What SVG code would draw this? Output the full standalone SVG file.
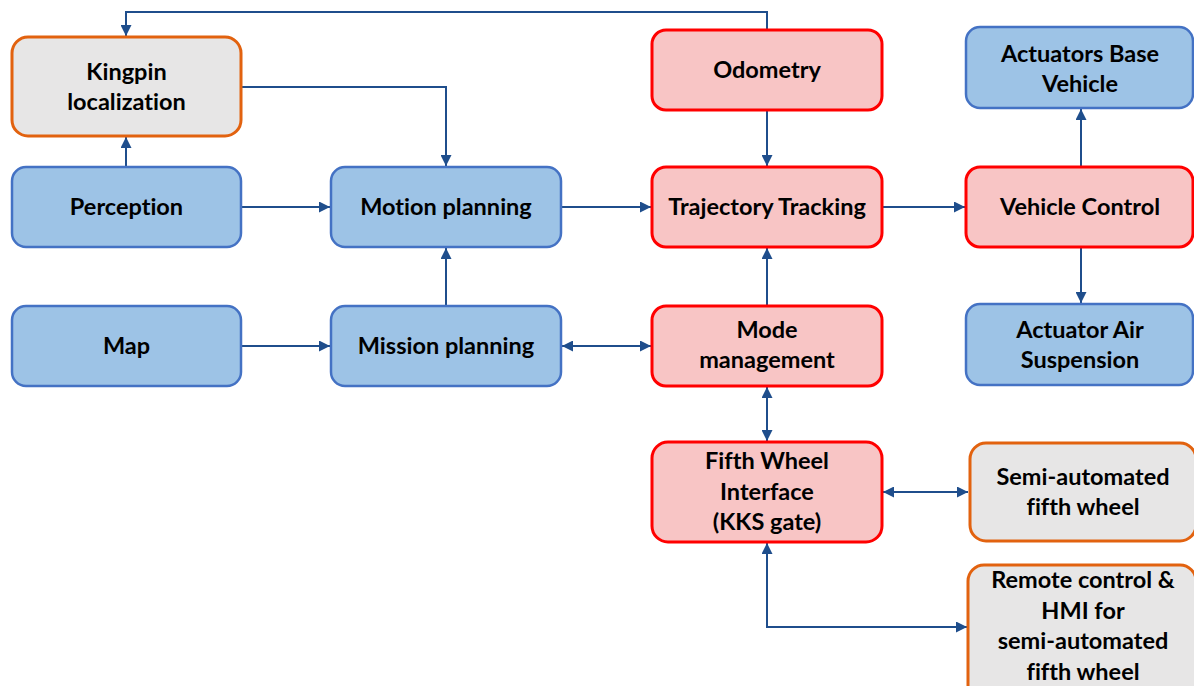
<svg xmlns="http://www.w3.org/2000/svg" width="1194" height="686" viewBox="0 0 1194 686">
  <style>
    .box rect { stroke-width: 2.5; }
    .blue rect { fill: #9DC3E6; stroke: #4472C4; }
    .red rect { fill: #F8C5C5; stroke: #FF0000; stroke-width: 3; }
    .gray rect { fill: #E7E6E6; stroke: #E2620F; stroke-width: 3; }
    .box text { font-family: "Lato", "Liberation Sans", sans-serif; font-weight: bold; font-size: 23.5px; fill: #000; text-anchor: middle; font-variant-ligatures: none; }
    .conn path { fill: none; stroke: #1F4E8C; stroke-width: 2; }
  </style>
  <defs>
    <marker id="arrow" viewBox="0 0 10 10" refX="10" refY="5" markerWidth="5.5" markerHeight="5.5" orient="auto-start-reverse" markerUnits="strokeWidth">
      <path d="M0,0 L10,5 L0,10 z" fill="#1F4E8C"/>
    </marker>
  </defs>
  <rect width="1194" height="686" fill="#FFFFFF"/>

  <!-- connectors -->
  <g id="connectors" class="conn">
    <path d="M767,30 V12 H126 V36" marker-end="url(#arrow)"/>
    <path d="M241,87 H446 V166" marker-end="url(#arrow)"/>
    <path d="M126,167 V137" marker-end="url(#arrow)"/>
    <path d="M241,207 H330" marker-end="url(#arrow)"/>
    <path d="M561,207 H651" marker-end="url(#arrow)"/>
    <path d="M882,207 H965" marker-end="url(#arrow)"/>
    <path d="M767,110 V166" marker-end="url(#arrow)"/>
    <path d="M446,306 V248" marker-end="url(#arrow)"/>
    <path d="M241,346 H330" marker-end="url(#arrow)"/>
    <path d="M562,346 H651" marker-start="url(#arrow)" marker-end="url(#arrow)"/>
    <path d="M767,306 V248" marker-end="url(#arrow)"/>
    <path d="M767,387 V441" marker-start="url(#arrow)" marker-end="url(#arrow)"/>
    <path d="M1081,167 V109" marker-end="url(#arrow)"/>
    <path d="M1081,247 V303" marker-end="url(#arrow)"/>
    <path d="M883,492 H968" marker-start="url(#arrow)" marker-end="url(#arrow)"/>
    <path d="M767,543 V627 H967" marker-start="url(#arrow)" marker-end="url(#arrow)"/>
  </g>

  <!-- nodes -->
  <g id="kingpin" class="box gray">
    <rect x="12" y="37" width="229" height="99" rx="16"/>
    <text x="126.5" y="80">Kingpin</text>
    <text x="126.5" y="110">localization</text>
  </g>
  <g id="perception" class="box blue">
    <rect x="12" y="167" width="229" height="80" rx="14"/>
    <text x="126.5" y="215">Perception</text>
  </g>
  <g id="map" class="box blue">
    <rect x="12" y="306" width="229" height="80" rx="14"/>
    <text x="126.5" y="354">Map</text>
  </g>
  <g id="motion-planning" class="box blue">
    <rect x="331" y="167" width="230" height="80" rx="14"/>
    <text x="446" y="215">Motion planning</text>
  </g>
  <g id="mission-planning" class="box blue">
    <rect x="331" y="306" width="230" height="80" rx="14"/>
    <text x="446" y="354">Mission planning</text>
  </g>
  <g id="odometry" class="box red">
    <rect x="652" y="30" width="230" height="80" rx="14"/>
    <text x="767" y="78">Odometry</text>
  </g>
  <g id="trajectory-tracking" class="box red">
    <rect x="652" y="167" width="230" height="80" rx="14"/>
    <text x="767" y="215">Trajectory Tracking</text>
  </g>
  <g id="mode-management" class="box red">
    <rect x="652" y="306" width="230" height="80" rx="14"/>
    <text x="767" y="338">Mode</text>
    <text x="767" y="368">management</text>
  </g>
  <g id="fifth-wheel-interface" class="box red">
    <rect x="652" y="442" width="230" height="100" rx="16"/>
    <text x="767" y="469">Fifth Wheel</text>
    <text x="767" y="500">Interface</text>
    <text x="767" y="530">(KKS gate)</text>
  </g>
  <g id="actuators-base-vehicle" class="box blue">
    <rect x="966" y="27" width="227" height="81" rx="14"/>
    <text x="1080" y="62">Actuators Base</text>
    <text x="1080" y="92">Vehicle</text>
  </g>
  <g id="vehicle-control" class="box red">
    <rect x="966" y="167" width="227" height="80" rx="14"/>
    <text x="1080" y="215">Vehicle Control</text>
  </g>
  <g id="actuator-air-suspension" class="box blue">
    <rect x="966" y="304" width="227" height="81" rx="14"/>
    <text x="1080" y="338">Actuator Air</text>
    <text x="1080" y="368">Suspension</text>
  </g>
  <g id="semi-automated-fifth-wheel" class="box gray">
    <rect x="970" y="443" width="226" height="98" rx="16"/>
    <text x="1083" y="485">Semi-automated</text>
    <text x="1083" y="515">fifth wheel</text>
  </g>
  <g id="remote-control-hmi" class="box gray">
    <rect x="968" y="565" width="228" height="140" rx="16"/>
    <text x="1083" y="588">Remote control &amp;</text>
    <text x="1083" y="619">HMI for</text>
    <text x="1083" y="649">semi-automated</text>
    <text x="1083" y="680">fifth wheel</text>
  </g>
</svg>
